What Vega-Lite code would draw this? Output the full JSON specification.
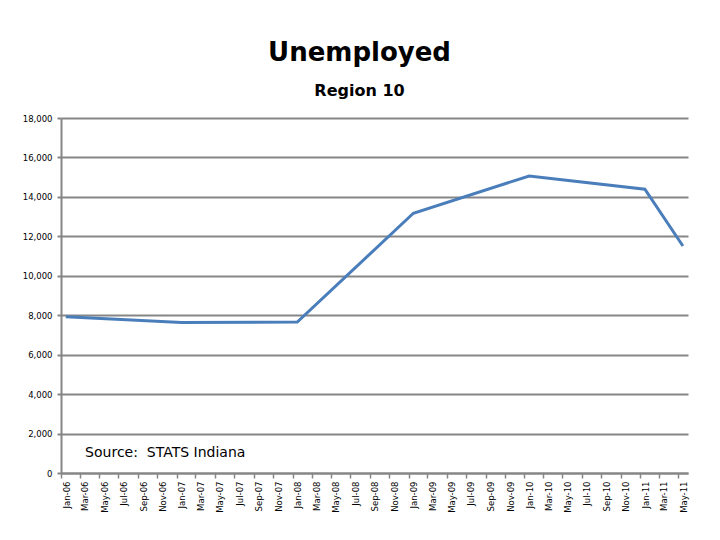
{
  "$schema": "https://vega.github.io/schema/vega-lite/v6.json",
  "width": 627,
  "height": 355,
  "autosize": "none",
  "padding": {"left": 61, "top": 118, "right": 32, "bottom": 67},
  "background": "white",
  "title": {
    "text": "Unemployed",
    "subtitle": "Region 10",
    "anchor": "middle",
    "dx": -15,
    "offset": 15,
    "font": "DejaVu Sans",
    "fontSize": 26,
    "fontWeight": "bold",
    "color": "#000000",
    "subtitleFont": "DejaVu Sans",
    "subtitleFontSize": 16,
    "subtitleFontWeight": "bold",
    "subtitleColor": "#000000",
    "subtitlePadding": 17
  },
  "config": {
    "view": {"stroke": null},
    "axis": {"labelFont": "DejaVu Sans", "labelFontSize": 8, "labelColor": "#000000"},
    "axisX": {
      "title": null,
      "format": "%b-%y",
      "tickCount": {"interval": "month", "step": 2},
      "labelAngle": -90,
      "labelAlign": "right",
      "labelBaseline": "middle",
      "labelOffset": 5,
      "labelPadding": 3,
      "labelOverlap": false,
      "labelFlush": false,
      "labelFontSize": 8.5,
      "tickSize": 5,
      "tickColor": "#868686",
      "tickWidth": 1.5,
      "domainColor": "#868686",
      "domainWidth": 2,
      "grid": false
    },
    "axisY": {
      "title": null,
      "values": [0, 2000, 4000, 6000, 8000, 10000, 12000, 14000, 16000, 18000],
      "format": ",.0f",
      "grid": true,
      "gridColor": "#868686",
      "gridWidth": 2,
      "domainColor": "#868686",
      "domainWidth": 2,
      "tickColor": "#868686",
      "tickWidth": 2,
      "tickSize": 4,
      "labelPadding": 5,
      "labelFontSize": 8.5
    }
  },
  "layer": [
    {
      "data": {
        "values": [
          {"month": "2006-01-16", "unemployed": 7920},
          {"month": "2007-01-16", "unemployed": 7630},
          {"month": "2008-01-16", "unemployed": 7650},
          {"month": "2009-01-16", "unemployed": 13170},
          {"month": "2010-01-16", "unemployed": 15060},
          {"month": "2011-01-16", "unemployed": 14390},
          {"month": "2011-05-16", "unemployed": 11510}
        ]
      },
      "mark": {"type": "line", "color": "#4A7EBB", "strokeWidth": 3, "strokeJoin": "miter"},
      "encoding": {
        "x": {
          "field": "month",
          "type": "temporal",
          "title": null,
          "scale": {"type": "utc", "domain": [{"year": 2006, "month": 1, "date": 1, "utc": true}, {"year": 2011, "month": 6, "date": 1, "utc": true}]},
          "axis": {"format": "%b-%y", "tickCount": {"interval": "month", "step": 2}}
        },
        "y": {
          "field": "unemployed",
          "type": "quantitative",
          "title": null,
          "scale": {"domain": [0, 18000], "nice": false},
          "axis": {"format": ",.0f", "values": [0, 2000, 4000, 6000, 8000, 10000, 12000, 14000, 16000, 18000]}
        }
      }
    },
    {
      "data": {"values": [{"note": "Source:\u00a0 STATS Indiana"}]},
      "mark": {"type": "text", "align": "left", "baseline": "middle", "font": "DejaVu Sans", "fontSize": 14, "color": "#000000"},
      "encoding": {
        "x": {"datum": {"year": 2006, "month": 3, "date": 18, "utc": true}, "type": "temporal", "title": null, "axis": {"format": "%b-%y", "tickCount": {"interval": "month", "step": 2}}},
        "y": {"datum": 1030, "type": "quantitative", "title": null, "axis": {"format": ",.0f", "values": [0, 2000, 4000, 6000, 8000, 10000, 12000, 14000, 16000, 18000]}},
        "text": {"field": "note"}
      }
    }
  ]
}
